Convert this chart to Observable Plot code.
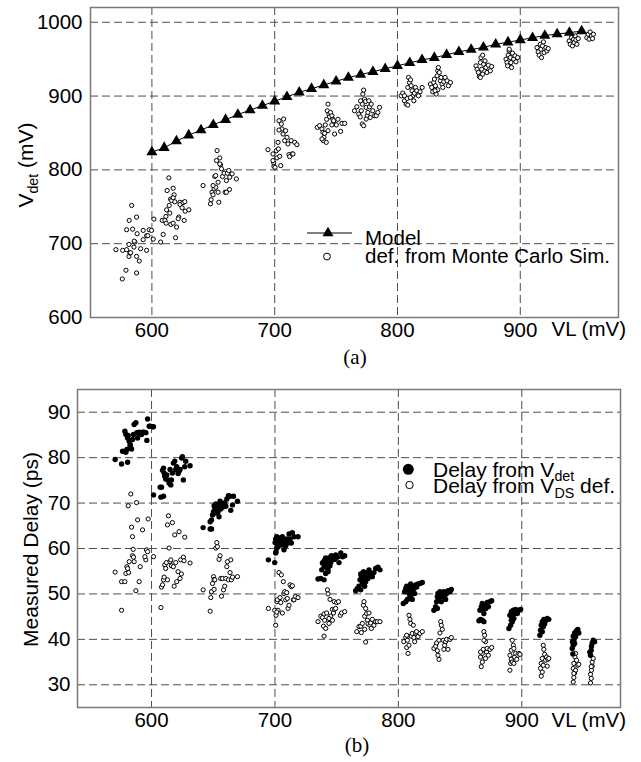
<!DOCTYPE html>
<html><head><meta charset="utf-8">
<script src="https://cdn.jsdelivr.net/npm/d3@7"></script>
<script src="https://cdn.jsdelivr.net/npm/@observablehq/plot@0.6"></script>
<style>
body{margin:0;background:#fff;}
#chart{width:641px;height:762px;}
#chart svg{display:block;}
</style></head><body><div id="chart"></div>
<script>
// ---------- data ----------
const xTicks = [600, 700, 800, 900];
const yTicksA = [600, 700, 800, 900, 1000];
const yGridA = [700, 800, 900, 1000];
const yTicksB = [30, 40, 50, 60, 70, 80, 90];

// Model: VL (mV) and Vdet (mV)
const modelVL = [600,610,620,630,640,650,660,670,680,690,700,710,720,730,740,750,760,770,780,790,800,810,820,830,840,850,860,870,880,890,900,910,920,930,940,950];
const modelVdet = [824,830,839,847,854,861,868,875,881,887,893,899,905,910,915,920,925,929,933,937,941,945,949,952,956,960,963,966,970,973,976,979,982,984,986,988];

// Vdet from Monte Carlo simulation [VL, Vdet]
const vdetMC = [
[570.7,691.9],[576.2,691],[579.4,691.9],[581.3,699],[581.5,731.5],[583.5,751.8],[584.3,719.7],[587.5,736],[588,713.5],[586.2,702.2],[579.4,718.9],[578.9,664],[575.9,652.2],[581.3,682.8],[582.1,687.3],[587.5,660.3],[589.7,676.5],[585.6,703.5],[590.8,693.2],[592.9,718],[595.7,710.8],[596.7,710.8],[595.7,691],[597.8,718.9],[592.9,705.4],[601.1,706.2],[601.6,733.3],[599.7,718],[587.5,682.8],[585.4,695.4],[582.7,687.8],
[607.1,702.2],[609.2,712.6],[608.4,731.5],[610.6,731.5],[611.4,736.9],[612,745.9],[612.4,772],[613.8,789.2],[615.2,760.3],[616,758.5],[617.3,775.1],[618.1,766.2],[617.3,762.2],[618.7,756.8],[614.6,741.4],[615.4,726.1],[617.3,727.8],[619.3,708.1],[620.1,722.5],[621.9,736],[622.8,756.1],[623,753.1],[624.6,748.6],[625.4,755.7],[626.8,757],[626.3,731.5],[627.1,744],[630.1,745.9],[614.1,751.8],[611.6,727.8],[621.4,733.8],
[641.7,778.8],[647.7,754],[648.2,759.5],[649,769.7],[649.8,766.2],[650.7,774.3],[651.2,791],[652,792.3],[653.1,826.1],[653.9,769.7],[654.5,756.2],[655.3,816.2],[655.9,806.8],[656.7,801.4],[657.5,791],[658.8,795.5],[659.6,769.7],[660.7,785.6],[661.5,795.5],[662.6,799.1],[663.4,790.1],[665.3,794.6],[668.8,787.8],[663.2,773.4],[660.7,769.7],[655.3,808.1],[653.9,783.3],[652.6,812.6],[652,776.5],[649.8,778.8],
[694.5,827.4],[698.6,821.6],[699.2,809.5],[699.4,804.9],[700.3,803.5],[701.4,826.1],[701.9,816.2],[702.7,837.3],[703,828.4],[703.5,866.6],[704.1,818.4],[704.9,805.8],[705.4,862.2],[705.9,855.4],[706.8,848.6],[707.3,868.9],[708.1,839.6],[708.9,853.1],[710,844.1],[710.8,835.1],[711.6,820.7],[712.2,818],[713.5,839.6],[714.3,821.6],[714.9,821.6],[716.3,837.3],[718.1,834.2],[698.6,812.6],[703.5,854],
[734.7,857.6],[736.6,859.9],[738.5,855.4],[739.3,850.8],[740.1,844.1],[739.6,839.6],[742,837.3],[741.2,860.9],[742.3,868.5],[742.8,880.1],[743.4,889.1],[744.2,875.5],[744.7,871.9],[745.5,877.8],[746.6,873.3],[747.4,868.5],[748.2,864.3],[748.8,848.6],[748,866.6],[750.2,860.9],[751.5,868.5],[753.7,852.2],[754.8,863],[757,863],[743.4,853.1],[740.7,849.5],[746.6,860.9],[738.5,841.9],
[765,880.1],[766.9,885.5],[768.5,875.5],[769.7,871.8],[770.5,880.1],[771.3,889.1],[771.8,902.7],[772.4,908.1],[773.2,896],[774,892.7],[774.5,884.7],[775.4,873.4],[775.9,877.8],[776.7,893.6],[777.2,885.5],[777.8,871],[778.6,889.1],[779.9,880.1],[781.3,873.4],[782.7,873.4],[784,877.8],[785.4,884.7],[771.3,862.2],[772.4,859.9],[774.5,868.9],[769.9,893.6],
[803,900.4],[804.3,904],[805.7,893.6],[807.1,889.1],[807.9,896.8],[808.4,911.7],[809,925.2],[809.8,918.4],[810.6,922],[811.1,914],[811.9,907.2],[812.5,900.4],[813.3,893.6],[813.8,904],[814.6,911.7],[815.7,907.2],[817.1,900.4],[818.4,905.8],[820.1,911.7],[808.4,887.8],[805.7,900.4],[810.6,898],
[826.8,916.2],[827.9,911.7],[828.7,905.8],[829.5,918.4],[830.1,923],[830.9,914],[831.5,902.7],[832.3,927.4],[832.8,934.2],[833.3,938.7],[834.1,932],[835,920.7],[835.5,925.2],[836.3,916.2],[836.9,911.7],[837.7,919.3],[838.8,925.2],[840.4,920.7],[841.5,914],[843.1,918.4],[832.8,908.5],[830.6,907.2],
[864,940.9],[864.8,936.4],[865.9,932],[866.7,926.5],[867.5,945.4],[868,952.2],[868.6,936.4],[869.4,929.7],[870.2,943.2],[871.3,947.7],[872.1,938.7],[872.9,932],[874,941.9],[875.6,934.2],[876.7,940],[867.5,925.2],[869.4,955.4],
[888.4,950],[889.2,945.4],[889.7,940.9],[890.2,955.4],[891,961.2],[891.9,952.2],[892.4,945.4],[892.9,938.7],[893.7,958.1],[894.6,950],[895.7,954.5],[896.5,946.4],[897.8,952.2],[891,963.5],
[913.6,965.7],[914.6,959.9],[915.4,955.4],[916.3,970.2],[916.8,963.5],[917.3,952.2],[918.1,968],[918.9,973.4],[919.5,958.9],[920.9,965.7],[921.7,961.2],[922.8,964.4],
[939.8,974.7],[940.7,970.2],[941.7,979.2],[942.5,968],[943.4,977],[943.9,972.5],[944.7,981.5],[945.3,976.1],[946.1,970.2],[947.2,977.9],
[954.2,979.2],[955.3,983.7],[956.1,977],[956.9,986.9],[958,981.5],[958.8,977.9],[959.6,983.7]
];

// Measured delay from Vdet [VL, ps]
const delayFromVdet = [
[570.5,79.6],[575.7,78.6],[576.5,81.4],[579.2,81.2],[580.6,79],[580,81.8],[578.4,85.8],[579.2,85.1],[580.6,84.3],[581.9,83.6],[582.7,82.9],[583.8,81.9],[584.6,84],[585.4,85.1],[585.9,87.3],[587.3,87.7],[588.1,85.5],[588.7,84.3],[589.2,85.3],[590,85.6],[590.8,85.5],[591.9,85.1],[592.7,85.6],[594,85.6],[595.4,85.5],[596.2,83.8],[596.8,88.5],[598.1,86.9],[598.9,86.9],[600.8,86.8],[601.6,86.8],[582.7,82.5],[581.1,84.9],
[601.6,71.8],[607.6,71.3],[609.7,71.5],[607,73.5],[608.1,73.5],[608.9,77.2],[609.7,77.7],[610.2,76.6],[610.7,75.9],[611.5,75.3],[612.3,76.2],[613.4,75.1],[614.2,74.4],[615,77.4],[616.1,75.1],[616.9,76.6],[617.7,78.8],[618.8,79.2],[619.6,77.4],[620.4,78],[621.5,76.5],[622.3,77],[623.1,77.4],[624.4,79.9],[625,80.2],[625.8,75.1],[626.9,78],[627.7,79.2],[631.2,78.2],[615.6,74],
[641.8,64.6],[647.5,64.3],[648.6,64.3],[647.5,65.9],[648.6,66.3],[649.4,67.4],[650.2,68.1],[650.7,69.4],[651.3,68.9],[652.1,67.8],[652.9,68.7],[653.4,69.6],[653.9,68.1],[654.7,69.3],[655.5,70.4],[656.1,68.7],[656.7,69.8],[657.5,69.1],[658.3,69.4],[659.3,70.1],[660.2,69.3],[661,70.9],[662.3,71.6],[663.6,71.5],[664.2,68.4],[665.6,69.6],[666.4,71.5],[669.6,70.4],[652.1,69.8],[654.7,67],
[694.7,57.5],[699.8,56.9],[700.6,59],[700.9,59.3],[701.5,60.1],[700.1,61.3],[700.6,62.1],[701.5,62.6],[702.5,61.5],[703.3,62.3],[704.1,61.2],[704.7,61.9],[705.2,60.8],[706,62.6],[706.8,61.2],[707.3,59.7],[707.9,61.7],[708.7,60.6],[709.5,62.1],[710.6,61.2],[711.4,63.2],[712.2,62.1],[713.3,61.2],[714.1,63.5],[715.4,62.6],[718.7,62.6],[702.5,60.4],[706,60.8],
[734.9,53.3],[737.1,53.4],[737.9,55.3],[738.5,56.8],[739.3,57.1],[739.8,55.9],[740.3,57.5],[741.1,57.9],[741.9,56.4],[742.5,56.9],[743,55.4],[743.8,57.9],[744.6,56.2],[745.2,56.9],[745.7,58.4],[746.6,57.5],[747.4,58.1],[748.4,57.6],[749.2,58.6],[750.6,58.1],[751.9,56.9],[753.3,59],[754.7,58.2],[756.5,58.4],[741.1,54.5],[743,54.9],[739.8,53.1],
[765.4,50.7],[766.8,51.2],[768.1,51.7],[768.9,53.1],[769.5,54.4],[770,53.7],[770.8,52.3],[771.7,54.9],[772.2,53.2],[772.7,54.2],[773.5,52.7],[774.3,53.8],[774.9,54.7],[775.4,53.4],[776.2,55.3],[777,54.2],[778.1,54.5],[778.9,53.8],[780.2,54.7],[781.6,55.6],[783.5,55.9],[785.1,55.3],[772.7,51.7],[769.5,50.9],
[804,47.9],[806,48.3],[807.3,48.8],[808.6,49],[805.1,50.5],[806,51.2],[806.7,51.7],[807.8,50.9],[808.6,50.1],[809.4,51.6],[810,52.2],[810.5,51],[811.3,50.1],[812.1,51.6],[812.6,51.2],[813.2,50.1],[814,52],[814.8,51.5],[815.9,52.2],[817.5,52.3],[819.4,52.5],[810,49.4],[811.3,48.8],
[828.8,46.4],[830.2,47.2],[831,48.3],[831.6,49.4],[832.1,50.1],[832.9,49],[833.7,50.5],[834.3,49.8],[834.8,48.3],[835.6,50.1],[836.4,49.3],[836.9,50.5],[837.5,49.5],[838.3,48.8],[839.1,50.1],[840.2,50.7],[841.8,50.5],[842.9,51],[831.6,46.8],
[865.3,44.1],[866.6,44.4],[868,44.2],[866.1,46.4],[867.2,47.2],[868,47.9],[868.8,46.8],[869.3,45.7],[870.1,47.5],[870.9,46.8],[872,48.1],[872.9,47.2],[874.2,48.3],[875.6,48.5],[869.3,43.9],
[889.6,42.4],[891,43.1],[891.5,44.2],[890.4,45.3],[891.5,46.1],[892.3,45.3],[893.1,46.4],[893.6,44.6],[894.2,45.7],[895,46.6],[896.4,45.7],[897.7,46.4],[899.1,46.6],[892.3,43.9],
[914.7,40.9],[915.2,42],[915.8,43.1],[916.6,43.9],[917.4,42.8],[917.9,44.4],[918.5,43.4],[919.3,44.1],[920.6,44.6],[921.9,44.4],[916.6,41.7],
[940.9,38],[941.7,38.7],[942.2,39.8],[941.7,40.7],[942.8,41.4],[943.6,40.6],[944.4,41.9],[945.4,42.2],[946.2,41.4],[942.8,39.1],[941.1,39.5],[941.4,36.8],
[955.7,36.5],[956.3,37.6],[956.5,38.5],[957.1,39.2],[957.9,39.8],[959,39.5],[955.1,37.2]
];

// Measured delay from VDS definition [VL, ps]
const delayFromVDS = [
[570.5,54.8],[575.7,46.4],[575.7,52.7],[578.4,52.7],[579.2,54.5],[580,56],[580.6,55.6],[581.4,54.7],[581.9,57.1],[583.2,72],[581.1,69.4],[583.8,64.7],[584.6,62.6],[584.6,58.4],[585.1,59.8],[585.4,58.1],[585.9,57.1],[587.8,70.1],[587.3,50.7],[588.7,66.3],[590,52.7],[590.8,56],[592.7,64.1],[595.4,57.5],[595.9,59.7],[596.8,59.3],[597.3,66.5],[601.6,58.2],[594.6,58.2],
[607.6,47],[608.1,51.5],[608.9,52],[609.7,53.1],[610.2,53.7],[610.7,56.4],[611.5,55.6],[612.1,56.9],[612.9,65.2],[613.7,67.2],[614.2,60.1],[615,57.1],[615.6,57.5],[616.1,56.2],[616.9,65.7],[617.7,56],[618.3,51.7],[618.8,63],[619.6,56.9],[620.4,52.7],[621.5,54.9],[622.3,63.7],[623.1,53.4],[623.6,57.5],[624.2,54.4],[625.8,58.1],[626.3,57.3],[626.9,62.5],[631.2,56.8],[612.9,53.1],
[641.8,50.9],[647.5,46.2],[648,49.2],[648.6,50.5],[649.4,52.3],[650.2,53.8],[650.7,53.2],[651.3,53.1],[652.1,60.1],[652.9,61.3],[653.4,60.4],[654.7,57.6],[655.5,58.4],[656.1,53.4],[656.7,49.5],[657.5,53.4],[658.3,50.9],[659.3,51.7],[660.2,53.4],[661,56],[661.5,57.1],[662.3,53.1],[663.6,54.7],[664.2,57.5],[664.7,53.1],[665.6,53.7],[669.6,53.8],[650.7,51],
[694.7,46.8],[699.8,46.4],[700.6,43.1],[700.9,45.3],[701.5,48.3],[702,48.7],[702.5,46.4],[703.3,54.7],[704.1,49.2],[704.7,48.1],[705.2,54.2],[706,45.8],[706.8,52.7],[707.3,50.1],[707.9,50.5],[708.7,48.7],[709.5,50.3],[710,49],[710.6,46.8],[711.4,47.5],[712.2,52],[713.3,51.6],[714.1,51.8],[714.9,48.7],[715.4,48.7],[716.7,49.4],[718.7,49.2],[701.5,46],
[734.9,43.9],[737.1,45.1],[738.5,44.8],[739.3,42.9],[739.8,45.6],[740.3,44.2],[741.1,42.4],[741.9,45.8],[742.5,50.9],[743,50],[743.8,43.5],[744.6,48.8],[745.2,45.1],[746.6,46.6],[747.4,45.8],[748,48.3],[748.4,46.6],[749.2,46.8],[750,48.1],[751.5,48.3],[753,45.3],[754,45.8],[756.5,46.1],[739.8,40.7],[743.8,44.6],[746.6,44.2],
[766.3,41.7],[768.1,42.8],[769.5,42.9],[770,41.5],[770.8,43.5],[771.7,47.5],[772.2,48.3],[772.7,45.1],[773.5,46.8],[774.3,45.7],[774.9,44.2],[775.4,43.4],[776.2,45.8],[777,43.1],[777.6,43.6],[778.1,42.4],[778.9,44.4],[780.2,43.1],[781.6,43.9],[783,43.9],[785.1,43.9],[772.7,42.2],[773.5,39.4],
[804.4,39.5],[806,40.4],[806.7,38.2],[807.3,39.8],[807.8,40.7],[808.6,45.3],[809.4,44.4],[810,43.5],[810.5,40.7],[811.3,41.3],[812.1,43.1],[812.6,40.4],[813.2,39.5],[814,41.4],[814.8,41.7],[815.9,40.6],[817.5,41.3],[819.4,41.7],[807.8,36.9],[808.6,38.7],[806.7,40.9],
[828.8,38],[830.2,38.5],[831,39.2],[831.6,37.5],[832.1,36.5],[832.9,39.8],[833.7,41.4],[834.3,43.9],[834.8,43.1],[835.6,42.2],[836.4,39.8],[836.9,37.8],[837.5,38.7],[838.3,39.5],[839.1,40],[840.2,37.8],[841.8,40],[842.9,40.4],[832.9,35.6],
[867.2,34],[868,35],[866.6,36.1],[868,36.9],[868.8,37.8],[869.3,41.7],[869.9,40.9],[870.6,39.5],[871.4,37.2],[872,38],[872.9,36.5],[874.2,37.8],[875.6,38.2],[869.3,39.8],[866.6,37.2],[870.6,35.8],
[890.4,33.2],[891,34.7],[891.5,35.6],[890.4,36.5],[891.5,37.6],[892.3,39.8],[893.1,38.7],[893.6,38],[894.2,36.1],[895,36.9],[895.9,35.6],[896.8,36.5],[897.7,36.9],[898.5,36.7],[892.3,35],[893.6,34.7],
[915.2,33.6],[915.8,31.9],[916.6,32.8],[915.8,34.7],[916.6,35.8],[917.4,38.7],[917.9,37.8],[918.5,36.7],[919.3,35.4],[920.1,36.1],[920.6,34.1],[921.1,35.6],[921.9,35.8],[917.4,34.3],
[941.7,30.6],[942.2,31.6],[942.8,32.6],[941.7,33.6],[942.2,34.7],[943.1,36.1],[943.6,36.9],[944.4,35.4],[945.4,34.3],[946.2,34.5],[943.6,33.2],[942.2,32.5],
[955.7,30.4],[956.3,31.4],[955.7,32.3],[956.5,33.2],[957.1,34.1],[957.1,35],[957.9,35.8],[956.3,34]
];

const legendA = ["Model", "def. from Monte Carlo Sim."];
const legendB = [["Delay from V", "det", ""], ["Delay from V", "DS", " def."]];

// ---------- drawing ----------
const FONT = '"Liberation Sans", Arial, Helvetica, sans-serif';
const SERIF = '"Liberation Serif", "Times New Roman", serif';
const GRID = {stroke: "#4d4d4d", strokeWidth: 1, strokeDasharray: "8,4"};
const model = modelVL.map((v, i) => ({vl: v, vdet: modelVdet[i]}));

function txt(g, x, y, parts, o = {}) {
  const size = o.size || 20;
  const t = g.append("text").attr("x", x).attr("y", y)
    .attr("font-family", o.family || FONT).attr("font-size", size)
    .attr("text-anchor", o.anchor || "start").attr("fill", "#000");
  if (o.rotate) t.attr("transform", `rotate(-90 ${x} ${y})`);
  let shifted = false;
  parts.forEach((p, i) => {
    if (!p) return;
    const sub = i % 2 === 1;
    const s = t.append("tspan").text(p);
    if (sub) { s.attr("font-size", size * 0.68).attr("dy", size * 0.22); shifted = true; }
    else if (shifted) { s.attr("dy", -size * 0.22); shifted = false; }
  });
  return t;
}

function overlay(build) {
  return (index, scales, values, dims) => {
    const g = d3.create("svg:g");
    build(g, dims);
    return g.node();
  };
}

const plotA = Plot.plot({
  width: 641, height: 375,
  marginLeft: 90, marginRight: 23, marginTop: 7, marginBottom: 58,
  style: {fontFamily: FONT, fontSize: "20.5px", color: "#000", background: "#fff", overflow: "visible"},
  x: {domain: [550, 980], ticks: xTicks, tickSize: 0, tickPadding: 5, tickFormat: d3.format("d"), label: null},
  y: {domain: [600, 1020], ticks: yTicksA, tickSize: 0, tickPadding: 8, tickFormat: d3.format("d"), label: null},
  marks: [
    Plot.ruleX(xTicks, GRID),
    Plot.ruleY(yGridA, GRID),
    Plot.frame({stroke: "#7a7a7a", strokeWidth: 1.5}),
    Plot.line(model, {x: "vl", y: "vdet", stroke: "#000", strokeWidth: 1}),
    Plot.dot(vdetMC, {x: d => d[0], y: d => d[1], r: 2.1, stroke: "#000", strokeWidth: 1, fill: "#fff"}),
    Plot.dot(model, {x: "vl", y: "vdet", symbol: "triangle", r: 4.1, fill: "#000"}),
    overlay((g) => {
      // legend
      g.append("line").attr("x1", 307).attr("x2", 352).attr("y1", 233).attr("y2", 233).attr("stroke", "#000").attr("stroke-width", 1);
      g.append("path").attr("transform", "translate(328,233)").attr("d", d3.symbol(d3.symbolTriangle, 16.8 * Math.PI)()).attr("fill", "#000");
      g.append("circle").attr("cx", 327).attr("cy", 256.5).attr("r", 3.4).attr("fill", "#fff").attr("stroke", "#000").attr("stroke-width", 1);
      txt(g, 365, 244.5, [legendA[0]], {size: 20.5});
      txt(g, 365, 262.7, [legendA[1]], {size: 20.5});
      // axis labels
      txt(g, 33, 165, ["V", "det", " (mV)"], {anchor: "middle", rotate: true, size: 21});
      txt(g, 626, 336.2, ["VL (mV)"], {anchor: "end", size: 20.5});
      txt(g, 355, 364, ["(a)"], {anchor: "middle", family: SERIF, size: 21});
    })
  ]
});

const plotB = Plot.plot({
  width: 641, height: 387,
  marginLeft: 77, marginRight: 21, marginTop: 14, marginBottom: 55,
  style: {fontFamily: FONT, fontSize: "20.5px", color: "#000", background: "#fff", overflow: "visible"},
  x: {domain: [540, 980], ticks: xTicks, tickSize: 0, tickPadding: 5, tickFormat: d3.format("d"), label: null},
  y: {domain: [25, 95], ticks: yTicksB, tickSize: 0, tickPadding: 7, tickFormat: d3.format("d"), label: null},
  marks: [
    Plot.ruleX(xTicks, GRID),
    Plot.ruleY(yTicksB, GRID),
    Plot.frame({stroke: "#7a7a7a", strokeWidth: 1.5}),
    Plot.dot(delayFromVDS, {x: d => d[0], y: d => d[1], r: 2.1, stroke: "#000", strokeWidth: 1, fill: "#fff"}),
    Plot.dot(delayFromVdet, {x: d => d[0], y: d => d[1], r: 2.7, fill: "#000"}),
    overlay((g) => {
      g.append("circle").attr("cx", 408.3).attr("cy", 94.3).attr("r", 5.5).attr("fill", "#000");
      g.append("circle").attr("cx", 409.5).attr("cy", 110).attr("r", 3.7).attr("fill", "#fff").attr("stroke", "#000").attr("stroke-width", 1);
      txt(g, 433, 101.7, legendB[0], {size: 21});
      txt(g, 433, 118, legendB[1], {size: 21});
      txt(g, 37.5, 174.5, ["Measured Delay (ps)"], {anchor: "middle", rotate: true, size: 21});
      txt(g, 626, 351.5, ["VL (mV)"], {anchor: "end", size: 20.5});
      txt(g, 357, 377, ["(b)"], {anchor: "middle", family: SERIF, size: 21});
    })
  ]
});

const root = document.getElementById("chart");
root.appendChild(plotA);
root.appendChild(plotB);
</script>
</body></html>
